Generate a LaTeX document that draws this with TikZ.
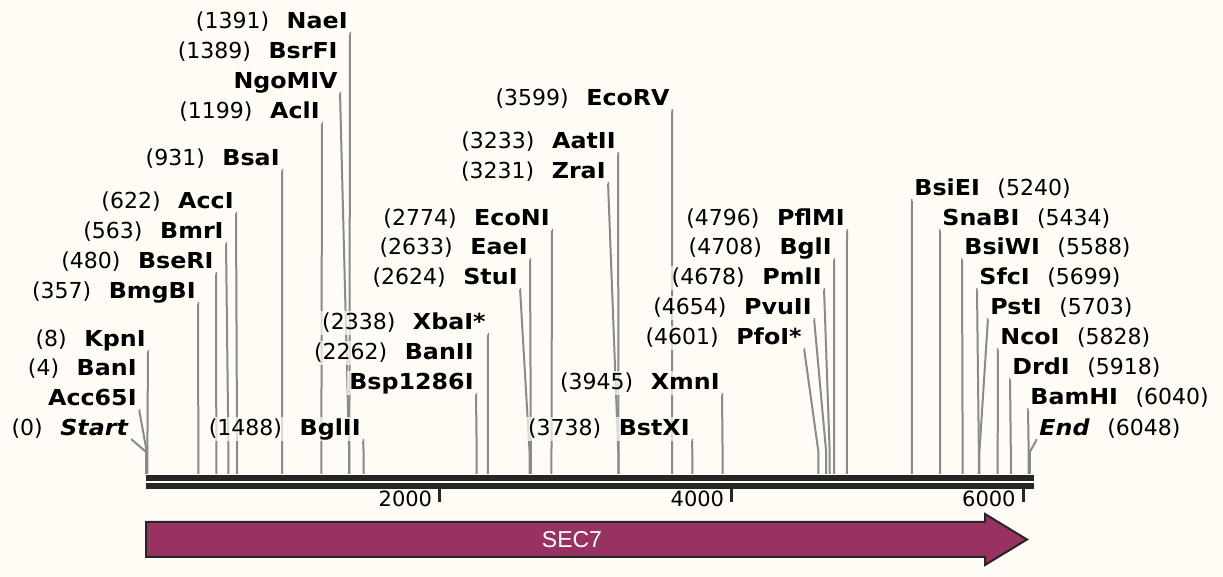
\documentclass[tikz,border=0pt]{standalone}
\usepackage{fontspec}
\setmainfont{DejaVu Sans}[BoldFeatures={FakeStretch=1.08},BoldItalicFeatures={FakeStretch=1.08}]
\newfontfamily\featfont{Liberation Sans}
\usepackage{tikz}
\usetikzlibrary{calc}

\definecolor{pagebg}{RGB}{255,252,245}
\definecolor{cutgray}{RGB}{138,138,138}
\definecolor{barblack}{RGB}{38,38,38}
\definecolor{secfill}{RGB}{152,51,97}

\pgfdeclarelayer{paper}
\pgfdeclarelayer{cuts}
\pgfsetlayers{paper,cuts,main}

\newcommand{\gap}{\hspace{0.8em}}

\tikzset{
  site/.style={inner sep=1pt, text height=8.5pt, text depth=1.5pt,
    fill=pagebg, fill opacity=0.7, text opacity=1,
    font=\fontsize{11}{13}\selectfont},
  cutline/.style={draw=cutgray, line width=1pt},
}

\begin{document}
\begin{tikzpicture}[x=0.5pt,y=-0.5pt]
  \begin{pgfonlayer}{paper}
    \fill[pagebg] (0,0) rectangle (1223,577);
  \end{pgfonlayer}
  \useasboundingbox (0,0) rectangle (1223,577);

  % 配列
  \fill[barblack] (146,475) rectangle (1034,481);
  \fill[barblack] (146,483) rectangle (1034,489);

  % 目盛り
  \foreach \t/\tx in {2000/439.5, 4000/731.5, 6000/1023} {
    \fill[barblack] (\tx-1.5,489) rectangle (\tx+1.5,502);
    \node[anchor=base east, inner sep=0pt, font=\fontsize{10.5}{12}\selectfont] (tick\t) at (\tx-7,507) {\t};
  }

  % 左側のラベル
  \foreach \id/\txt/\x/\y/\bp in {
    naeI/{(1391)\gap\textbf{NaeI}}/350/20/1391,
    ngoMIV/{\textbf{NgoMIV}}/340/80/1389,
    aclI/{(1199)\gap\textbf{AclI}}/322/110/1199,
    bsaI/{(931)\gap\textbf{BsaI}}/282/157/931,
    accI/{(622)\gap\textbf{AccI}}/236/200/622,
    bmrI/{(563)\gap\textbf{BmrI}}/226/230/563,
    bseRI/{(480)\gap\textbf{BseRI}}/216/260/480,
    bmgBI/{(357)\gap\textbf{BmgBI}}/198/290/357,
    kpnI/{(8)\gap\textbf{KpnI}}/148/338/8,
    acc65I/{\textbf{Acc65I}}/139/397/4,
    start/{(0)\gap\textbf{\textit{Start}}}/131/427/0,
    bglII/{(1488)\gap\textbf{BglII}}/363/427/1488,
    xbaI/{(2338)\gap\textbf{XbaI*}}/488/321/2338,
    bsp1286I/{\textbf{Bsp1286I}}/476/381/2262,
    ecoNI/{(2774)\gap\textbf{EcoNI}}/552/217/2774,
    eaeI/{(2633)\gap\textbf{EaeI}}/530/246/2633,
    stuI/{(2624)\gap\textbf{StuI}}/520/276/2624,
    ecoRV/{(3599)\gap\textbf{EcoRV}}/672/97/3599,
    aatII/{(3233)\gap\textbf{AatII}}/618/140/3233,
    zraI/{(3231)\gap\textbf{ZraI}}/608/170/3231,
    xmnI/{(3945)\gap\textbf{XmnI}}/722/381/3945,
    bstXI/{(3738)\gap\textbf{BstXI}}/692/427/3738,
    pflMI/{(4796)\gap\textbf{PflMI}}/847/217/4796,
    bglI/{(4708)\gap\textbf{BglI}}/834/246/4708,
    pmlI/{(4678)\gap\textbf{PmlI}}/824/276/4678,
    pvuII/{(4654)\gap\textbf{PvuII}}/814/306/4654,
    pfoI/{(4601)\gap\textbf{PfoI*}}/804/336/4601} {
    \node[site, anchor=base east] (\id) at (\x,\y+9) {\txt};
    \coordinate (knee-\id) at ({146.2+0.1461*\bp},452);
    \coordinate (cut-\id) at ({146.2+0.1461*\bp},474);
    \begin{pgfonlayer}{cuts}
      \draw[cutline] ($(\id.base east)+(0,3)$) -- (knee-\id) -- (cut-\id);
    \end{pgfonlayer}
  }

  % 右側のラベル
  \foreach \id/\txt/\x/\y/\bp in {
    bsiEI/{\textbf{BsiEI}\gap(5240)}/912/187/5240,
    snaBI/{\textbf{SnaBI}\gap(5434)}/940/217/5434,
    bsiWI/{\textbf{BsiWI}\gap(5588)}/962/246/5588,
    sfcI/{\textbf{SfcI}\gap(5699)}/977/276/5699,
    pstI/{\textbf{PstI}\gap(5703)}/988/306/5703,
    ncoI/{\textbf{NcoI}\gap(5828)}/998/336/5828,
    drdI/{\textbf{DrdI}\gap(5918)}/1010/366/5918,
    bamHI/{\textbf{BamHI}\gap(6040)}/1028/396/6040,
    end/{\textbf{\textit{End}}\gap(6048)}/1037/427/6048} {
    \node[site, anchor=base west] (\id) at (\x,\y+9) {\txt};
    \coordinate (knee-\id) at ({146.2+0.1461*\bp},452);
    \coordinate (cut-\id) at ({146.2+0.1461*\bp},474);
    \begin{pgfonlayer}{cuts}
      \draw[cutline] ($(\id.base west)+(0,3)$) -- (knee-\id) -- (cut-\id);
    \end{pgfonlayer}
  }

  % 同じ位置の酵素
  \node[site, anchor=base east] (bsrFI) at (340,59) {(1389)\gap\textbf{BsrFI}};
  \node[site, anchor=base east] (banI) at (139,376) {(4)\gap\textbf{BanI}};
  \node[site, anchor=base east] (banII) at (476,360) {(2262)\gap\textbf{BanII}};

  % 遺伝子
  \draw[barblack, line width=1pt, fill=secfill]
    (146,522) -- (985,522) -- (985,514) -- (1027,539.5) -- (985,565) -- (985,557) -- (146,557) -- cycle;
  \node[text=white, font=\featfont\fontsize{11.5}{13}\selectfont] (sec7) at (572,539.5) {SEC7};
\end{tikzpicture}
\end{document}
